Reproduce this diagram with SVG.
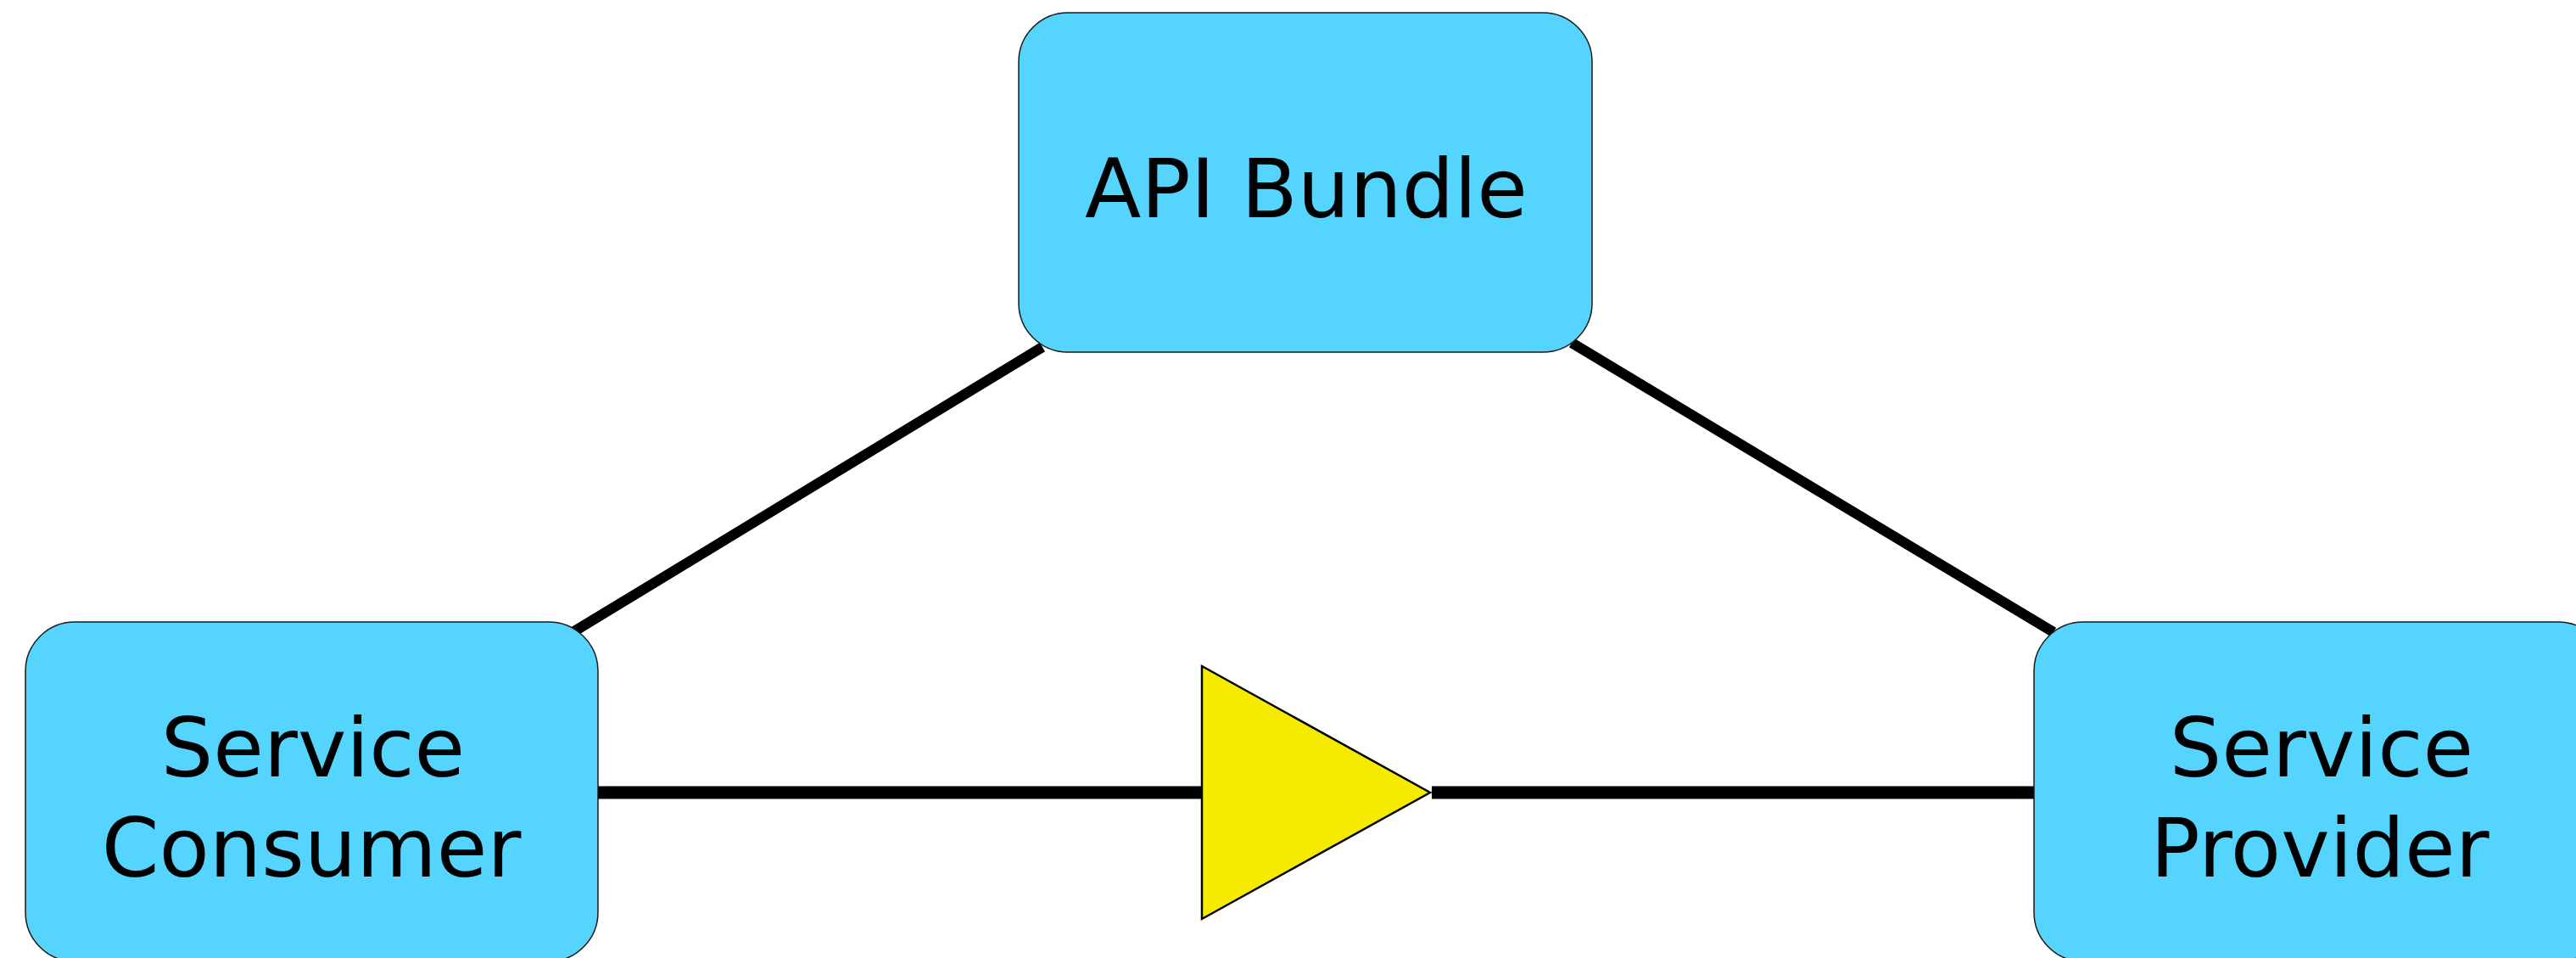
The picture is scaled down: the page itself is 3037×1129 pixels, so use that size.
<svg xmlns="http://www.w3.org/2000/svg" width="3037" height="1129" viewBox="0 0 3037 1129">
  <style>
    .node { fill: #55d4fd; stroke: #1a1a1a; stroke-width: 1.5; }
    .label { font-family: "DejaVu Sans", Verdana, sans-serif; font-size: 97px; fill: #000; text-anchor: middle; }
    .link { stroke: #000; fill: none; stroke-linecap: butt; }
    .diag { stroke-width: 12; }
    .straight { stroke-width: 15; }
    .flow { fill: #f5eb00; stroke: #000; stroke-width: 2.5; stroke-linejoin: miter; }
  </style>
  <rect width="3037" height="1129" fill="#fff"/>

  <!-- connectors between the three parties -->
  <g id="connectors">
    <line class="link diag" x1="677" y1="744" x2="1229" y2="409"/>
    <line class="link diag" x1="1853" y1="404" x2="2421" y2="745"/>
    <line class="link straight" x1="705" y1="934" x2="1417" y2="934"/>
    <line class="link straight" x1="1688" y1="934" x2="2398" y2="934"/>
  </g>

  <g id="api-bundle">
    <rect class="node" x="1201" y="15" width="676" height="400" rx="58" ry="58"/>
    <text class="label" x="1540" y="256">API Bundle</text>
  </g>

  <g id="service-consumer">
    <rect class="node" x="30" y="733" width="675" height="400" rx="58" ry="58"/>
    <text class="label" x="369" y="915">Service</text>
    <text class="label" x="367" y="1033">Consumer</text>
  </g>

  <g id="service-provider">
    <rect class="node" x="2398" y="733" width="676" height="400" rx="58" ry="58"/>
    <text class="label" x="2737" y="915">Service</text>
    <text class="label" x="2735" y="1033">Provider</text>
  </g>

  <!-- direction marker on the consumer/provider link -->
  <g id="flow-direction">
    <polygon class="flow" points="1417,785 1686,934 1417,1083"/>
  </g>
</svg>
